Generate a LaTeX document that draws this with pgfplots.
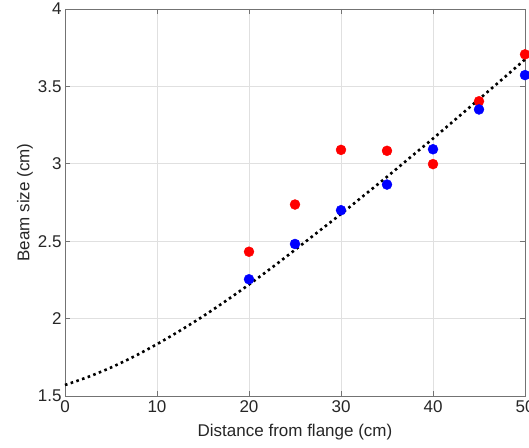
\documentclass[border=0pt]{standalone}
\usepackage{fontspec}
\setmainfont{Liberation Sans}
\usepackage{pgfplots}
\pgfplotsset{compat=1.18}
\definecolor{mred}{RGB}{255,0,0}
\definecolor{mblue}{RGB}{0,0,255}
\definecolor{axgray}{RGB}{38,38,38}
\begin{document}
\begin{tikzpicture}
\begin{axis}[
  at={(0,0)}, anchor=south west,
  scale only axis,
  width=460bp, height=387bp,
  xmin=0, xmax=50, ymin=1.5, ymax=4,
  xtick={0,10,20,30,40,50},
  ytick={1.5,2,2.5,3,3.5,4},
  yticklabels={1.5,2,2.5,3,3.5,4},
  xticklabels={0,10,20,30,40,50},
  tick align=inside,
  major tick length=5bp,
  grid=major,
  grid style={black!12, line width=0.6bp},
  axis line style={black!55, line width=0.8bp},
  tick style={black!55, line width=0.8bp},
  ticklabel style={text=axgray, font=\fontsize{17bp}{20bp}\selectfont},
  xticklabel style={yshift=-1bp},
  label style={text=axgray, font=\fontsize{17bp}{20bp}\selectfont},
  xlabel={Distance from flange (cm)},
  ylabel={Beam size (cm)},
  xlabel style={yshift=-5bp},
  ylabel style={yshift=-2bp},
  clip=false,
]
\addplot[black, line width=2.6bp, dash pattern=on 2.6bp off 3.4bp, smooth] coordinates {
(0,1.571) (2.5,1.623) (5,1.684) (7.5,1.755) (10,1.835) (12.5,1.922) (15,2.015) (17.5,2.115) (20,2.220) (22.5,2.330) (25,2.444) (27.5,2.560) (30,2.676) (32.5,2.796) (35,2.916) (37.5,3.040) (40,3.163) (42.5,3.290) (45,3.417) (47.5,3.545) (50,3.674)
};
\addplot[only marks, mark=*, mark size=5bp, mred, mark options={draw=mred, fill=mred}] coordinates {
(20,2.432) (25,2.737) (30,3.090) (35,3.084) (40,2.998) (45,3.404) (50,3.707)
};
\addplot[only marks, mark=*, mark size=5bp, mblue, mark options={draw=mblue, fill=mblue}] coordinates {
(20,2.254) (25,2.482) (30,2.700) (35,2.866) (40,3.094) (45,3.351) (50,3.573)
};
\end{axis}
\pgfresetboundingbox
\useasboundingbox (-65bp,-52bp) rectangle (464bp,396bp);
\end{tikzpicture}
\end{document}
